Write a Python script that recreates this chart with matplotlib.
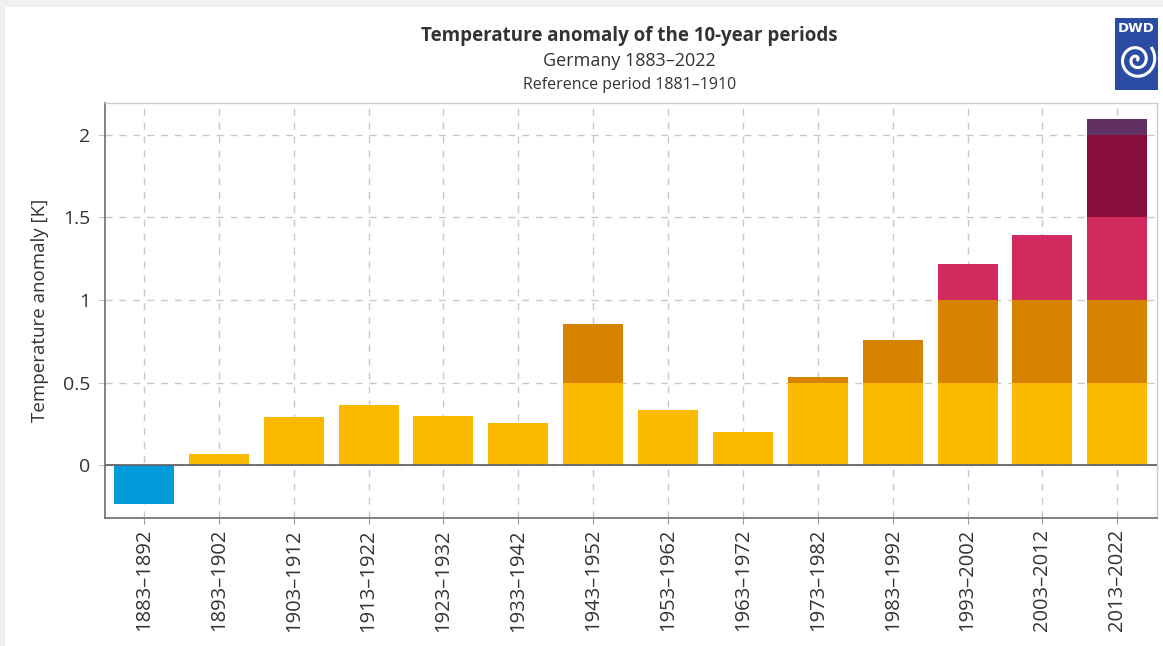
#!/usr/bin/env python3
# coding: utf-8

import numpy as np
import matplotlib
matplotlib.use('Agg')
import matplotlib.pyplot as plt
from matplotlib.patches import Rectangle

periods = ['1883–1892', '1893–1902', '1903–1912', '1913–1922', '1923–1932',
           '1933–1942', '1943–1952', '1953–1962', '1963–1972', '1973–1982',
           '1983–1992', '1993–2002', '2003–2012', '2013–2022']
anomaly = [-0.235, 0.065, 0.29, 0.364, 0.30, 0.255, 0.853, 0.335, 0.198,
           0.533, 0.757, 1.216, 1.394, 2.097]

# colour bands (K)
band_edges = [0.0, 0.5, 1.0, 1.5, 2.0, 5.0]
band_colors = ['#fbb900', '#d78300', '#d2295f', '#870d3b', '#623163']
neg_color = '#009bd8'

plt.rcParams['font.family'] = ['Open Sans', 'DejaVu Sans']

fig = plt.figure(figsize=(11.63, 6.46), dpi=100, facecolor='white')
# grey page strips on top and left
fig.patches.append(Rectangle((0, 1 - 7/646), 1, 7/646, transform=fig.transFigure,
                             facecolor='#f0f0f0', edgecolor='none'))
fig.patches.append(Rectangle((0, 0), 5/1163, 1, transform=fig.transFigure,
                             facecolor='#f0f0f0', edgecolor='none'))

ax = fig.add_axes([105/1163, 1 - 518/646, (1157-105)/1163, (518-102.7)/646])
ax.set_facecolor('white')

x = np.arange(len(periods))
w = 0.8
for i, v in enumerate(anomaly):
    if v < 0:
        ax.bar(x[i], v, width=w, color=neg_color, zorder=2)
        continue
    for b in range(len(band_colors)):
        lo, hi = band_edges[b], band_edges[b+1]
        if v > lo:
            ax.bar(x[i], min(v, hi) - lo, bottom=lo, width=w,
                   color=band_colors[b], zorder=2)

ax.axhline(0, color='#666666', lw=1.3, zorder=3)
ax.set_xlim(-0.52, len(periods) - 0.47)
ax.set_ylim(-0.32, 2.194)
ax.set_yticks([0, 0.5, 1, 1.5, 2])
ax.set_yticklabels(['0', '0.5', '1', '1.5', '2'])
ax.set_xticks(x)
ax.set_xticklabels(periods, rotation=90)

ax.grid(True, color='#c8c8c8', linestyle=(0, (5, 5)), lw=1, zorder=1)
ax.set_axisbelow(True)

for s in ['left', 'bottom']:
    ax.spines[s].set_color('#777777')
    ax.spines[s].set_linewidth(1.3)
for s in ['top', 'right']:
    ax.spines[s].set_color('#cccccc')
    ax.spines[s].set_linewidth(1)

ax.tick_params(axis='y', length=5, color='#c8c8c8', labelsize=14,
               labelcolor='#333333', pad=5.5)
ax.tick_params(axis='x', length=4, color='#999999', labelsize=14.5,
               labelcolor='#333333', pad=4)
ax.set_ylabel('Temperature anomaly [K]', fontsize=13.5, color='#333333', labelpad=10)

fig.text(0.541, 1 - 36/646, 'Temperature anomaly of the 10-year periods',
         ha='center', va='center', fontsize=13.5, fontweight='bold', color='#333333')
fig.text(0.541, 1 - 61/646, 'Germany 1883–2022', ha='center', va='center',
         fontsize=13, color='#333333')
fig.text(0.541, 1 - 85/646, 'Reference period 1881–1910', ha='center', va='center',
         fontsize=11.5, color='#333333')

# DWD logo
lax = fig.add_axes([1115/1163, 1 - 90/646, 43/1163, 72/646])
lax.set_facecolor('#2a4ca2')
lax.set_xlim(0, 1)
lax.set_ylim(0, 1)
lax.set_xticks([])
lax.set_yticks([])
for s in lax.spines.values():
    s.set_visible(False)
lax.text(0.5, 0.86, 'DWD', ha='center', va='center', color='white',
         fontsize=9.5, fontweight='bold', family='DejaVu Sans')
t = np.linspace(0, 4.2*np.pi, 200)
r = 0.03 + 0.035*t
lax.plot(0.5 + r*np.cos(t)*0.9, 0.42 + r*np.sin(t)*0.55, color='white', lw=2.2)

fig.savefig('out.png', dpi=100, facecolor=fig.get_facecolor())
